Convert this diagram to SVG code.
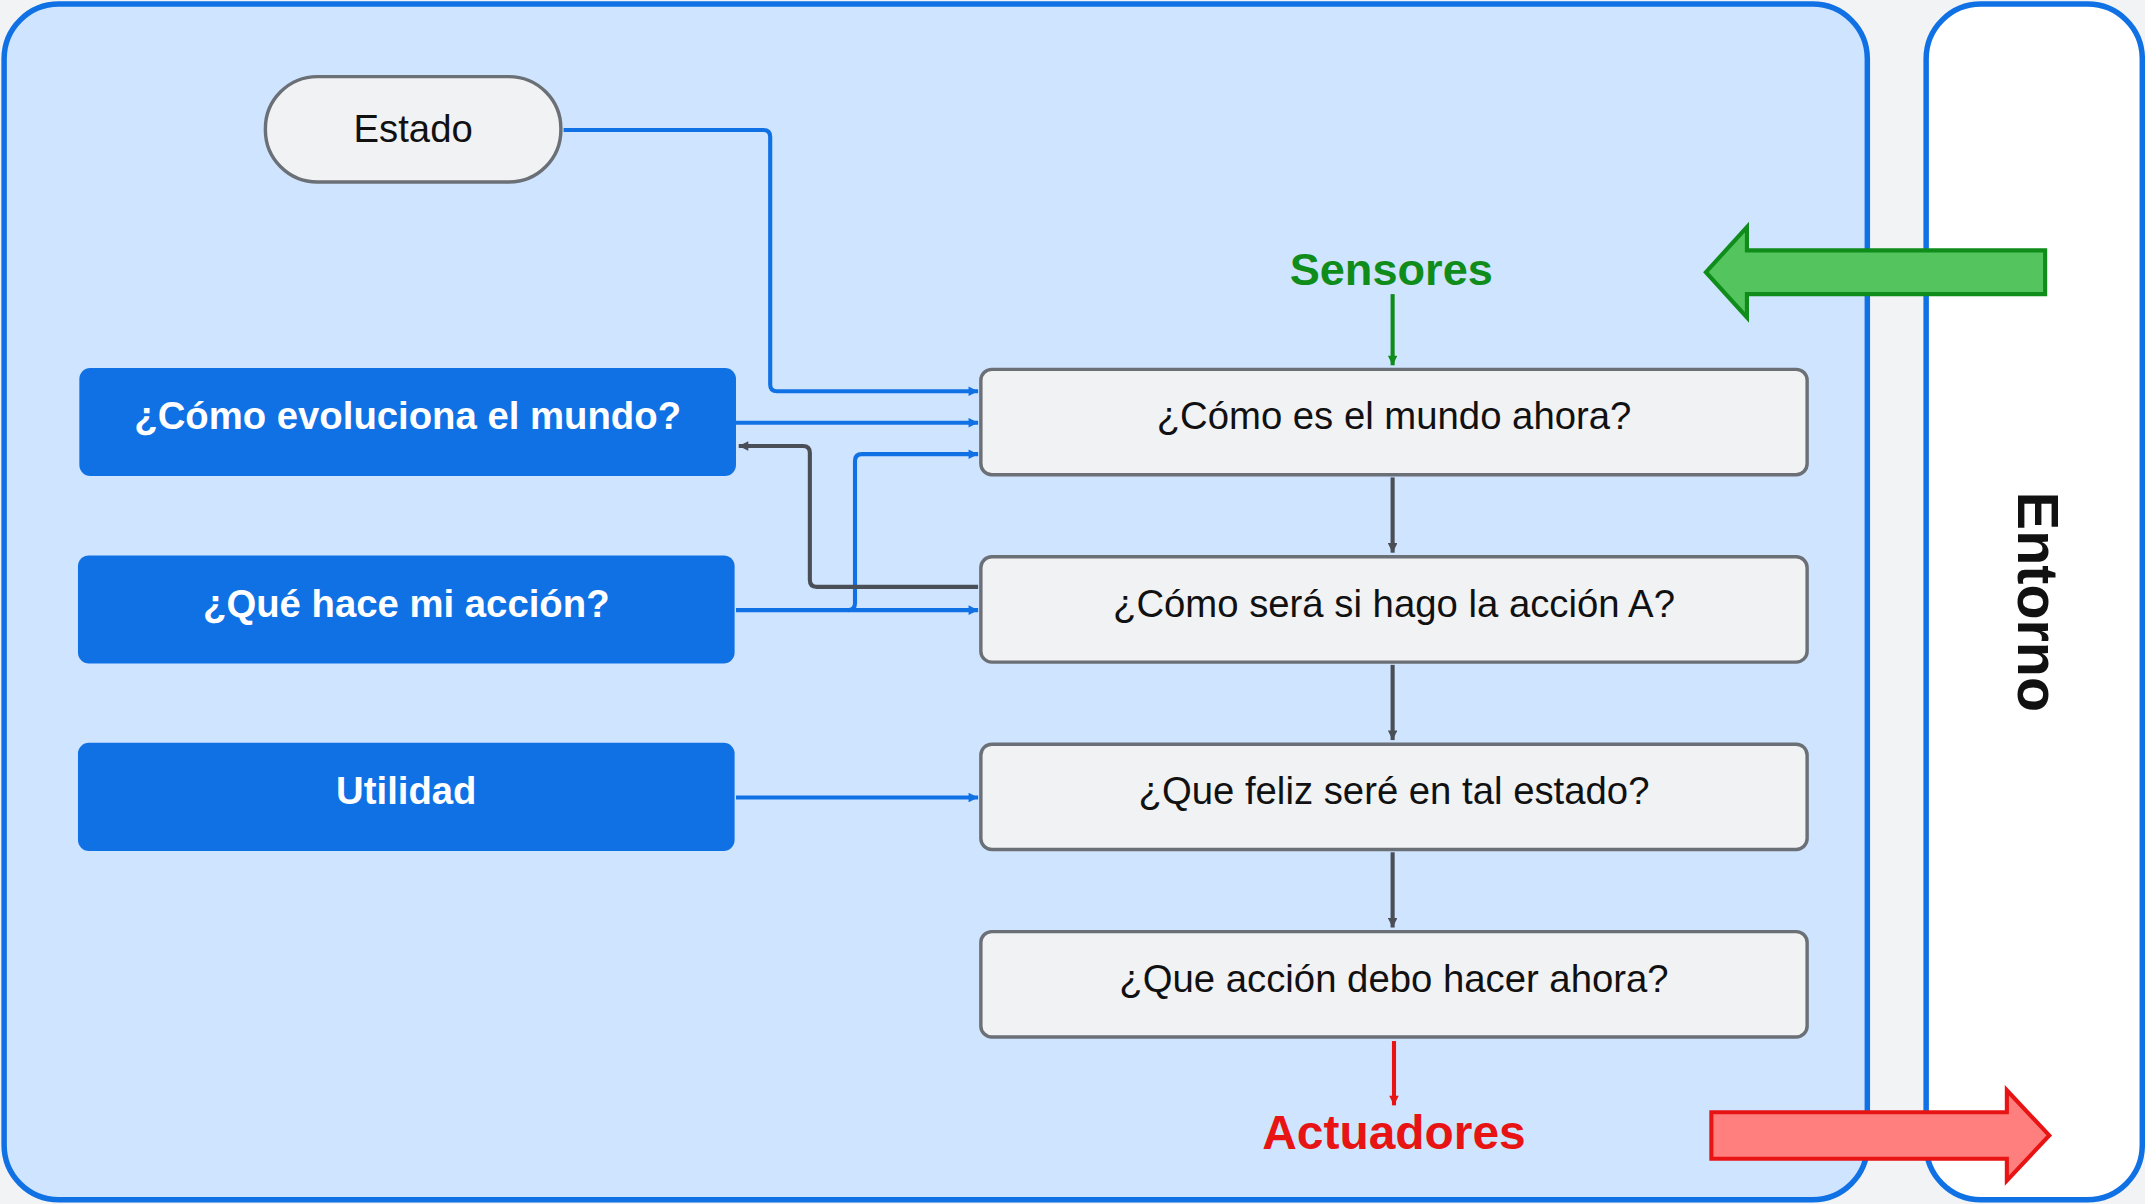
<svg xmlns="http://www.w3.org/2000/svg" width="2145" height="1204" viewBox="0 0 2145 1204">
<defs>
<style>
.gb{fill:#f1f2f4;stroke:#6b6f76;stroke-width:2.5}
.bb{fill:#1071e5}
.t{font-family:"Liberation Sans",Arial,sans-serif;font-size:28px;text-anchor:middle;dominant-baseline:central;fill:#111}
.w{fill:#fff;font-weight:bold}
.cb{fill:none;stroke:#1071e5;stroke-width:3}
.cg{fill:none;stroke:#4a4f57;stroke-width:3}
</style>
<marker id="ab" viewBox="0 0 10 10" refX="10" refY="5" markerWidth="10" markerHeight="7" markerUnits="userSpaceOnUse" orient="auto"><path d="M0,0L10,5L0,10z" fill="#1071e5"/></marker>
<marker id="ag" viewBox="0 0 10 10" refX="10" refY="5" markerWidth="10" markerHeight="7" markerUnits="userSpaceOnUse" orient="auto"><path d="M0,0L10,5L0,10z" fill="#4a4f57"/></marker>
<marker id="agr" viewBox="0 0 10 10" refX="10" refY="5" markerWidth="10" markerHeight="7" markerUnits="userSpaceOnUse" orient="auto"><path d="M0,0L10,5L0,10z" fill="#0f8c1a"/></marker>
<marker id="ar" viewBox="0 0 10 10" refX="10" refY="5" markerWidth="10" markerHeight="7" markerUnits="userSpaceOnUse" orient="auto"><path d="M0,0L10,5L0,10z" fill="#e81313"/></marker>
</defs>
<rect width="2145" height="1204" fill="#f1f3f5"/>
<g transform="scale(1.368)">
<g id="agente"><rect x="3" y="3" width="1362" height="874" rx="40" fill="#cfe4ff" stroke="#1071e5" stroke-width="4"/></g>
<g id="entorno"><rect x="1408" y="3" width="158" height="874" rx="40" fill="#fff" stroke="#1071e5" stroke-width="4"/>
<text class="t" transform="translate(1490,440) rotate(90)" style="font-size:42px;font-weight:bold">Entorno</text></g>
<g id="flecha-sensores"><polygon points="1495,183 1277,183 1277,166 1247,199 1277,232 1277,215 1495,215" fill="#53c45e" stroke="#0f8c1a" stroke-width="3"/></g>
<g id="flecha-actuadores"><polygon points="1251,813 1467,813 1467,797 1498,830 1467,863 1467,847 1251,847" fill="#ff7f7f" stroke="#e81313" stroke-width="3"/></g>
<g id="estado"><rect class="gb" x="194" y="56" width="216" height="77" rx="38"/><text class="t" x="302" y="94">Estado</text></g>
<g id="evoluciona"><rect class="bb" x="58" y="269" width="480" height="79" rx="8"/><text class="t w" x="298" y="304">¿Cómo evoluciona el mundo?</text></g>
<g id="accion"><rect class="bb" x="57" y="406" width="480" height="79" rx="8"/><text class="t w" x="297" y="441">¿Qué hace mi acción?</text></g>
<g id="utilidad"><rect class="bb" x="57" y="543" width="480" height="79" rx="8"/><text class="t w" x="297" y="578">Utilidad</text></g>
<g id="mundo"><rect class="gb" x="717" y="270" width="604" height="77" rx="8"/><text class="t" x="1019" y="304">¿Cómo es el mundo ahora?</text></g>
<g id="sera"><rect class="gb" x="717" y="407" width="604" height="77" rx="8"/><text class="t" x="1019" y="441">¿Cómo será si hago la acción A?</text></g>
<g id="feliz"><rect class="gb" x="717" y="544" width="604" height="77" rx="8"/><text class="t" x="1019" y="578">¿Que feliz seré en tal estado?</text></g>
<g id="debo"><rect class="gb" x="717" y="681" width="604" height="77" rx="8"/><text class="t" x="1019" y="715">¿Que acción debo hacer ahora?</text></g>
<g id="sensores"><text class="t" x="1017" y="197" style="font-size:33px;font-weight:bold;fill:#0f8c1a">Sensores</text></g>
<g id="actuadores"><text class="t" x="1019" y="828" style="font-size:35px;font-weight:bold;fill:#e81313">Actuadores</text></g>
<g id="conectores">
<path class="cb" d="M412,95H558Q563,95 563,100V281Q563,286 568,286H715" marker-end="url(#ab)"/>
<path class="cb" d="M538,309H715" marker-end="url(#ab)"/>
<path class="cb" d="M538,446H715" marker-end="url(#ab)"/>
<path class="cb" d="M620,446Q625,446 625,441V337Q625,332 630,332H715" marker-end="url(#ab)"/>
<path class="cb" d="M538,583H715" marker-end="url(#ab)"/>
<path class="cg" d="M715,429H597Q592,429 592,424V331Q592,326 587,326H540" marker-end="url(#ag)"/>
<path class="cg" d="M1018,349V404" marker-end="url(#ag)"/>
<path class="cg" d="M1018,486V541" marker-end="url(#ag)"/>
<path class="cg" d="M1018,623V678" marker-end="url(#ag)"/>
<path fill="none" stroke="#0f8c1a" stroke-width="3" d="M1018,215V267" marker-end="url(#agr)"/>
<path fill="none" stroke="#e81313" stroke-width="3" d="M1019,761V808" marker-end="url(#ar)"/>
</g>
</g>
</svg>
